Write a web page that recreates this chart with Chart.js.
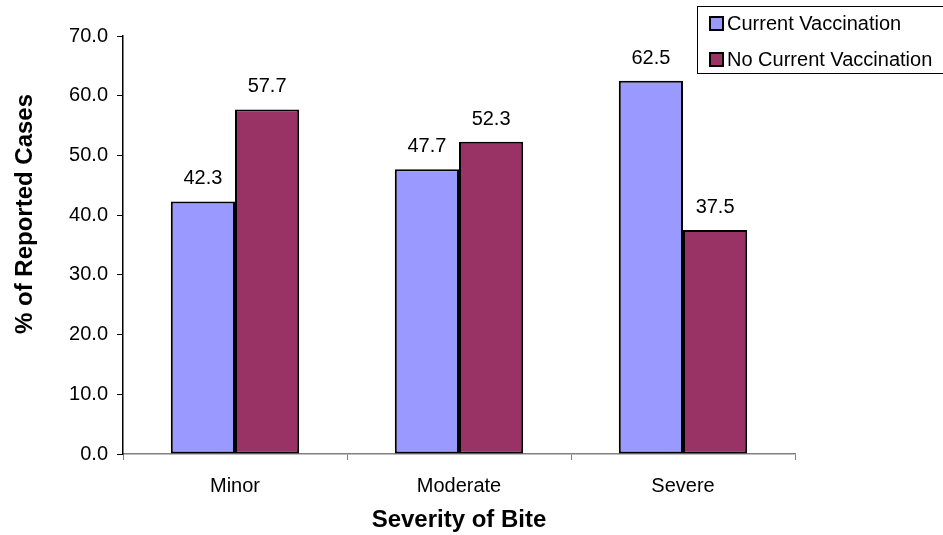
<!DOCTYPE html>
<html>
<head>
<meta charset="utf-8">
<script src="https://cdn.jsdelivr.net/npm/chart.js@4/dist/chart.umd.min.js"></script>
<style>
  html, body { margin: 0; padding: 0; background: #fff; }
  #wrap { width: 943px; height: 535px; }
</style>
</head>
<body>
<div id="wrap"><canvas id="chart"></canvas></div>
<script>
const categories = ["Minor", "Moderate", "Severe"];
const currentVacc = [42.3, 47.7, 62.5];
const noCurrentVacc = [57.7, 52.3, 37.5];
const seriesNames = ["Current Vaccination", "No Current Vaccination"];
const yTitle = "% of Reported Cases";
const xTitle = "Severity of Bite";

const FONT = "'Liberation Sans', Arial, sans-serif";

// value labels above each bar
const valueLabels = {
  id: "valueLabels",
  afterDatasetsDraw(chart) {
    const ctx = chart.ctx;
    ctx.save();
    ctx.font = "20px " + FONT;
    ctx.fillStyle = "#000";
    ctx.textAlign = "center";
    ctx.textBaseline = "alphabetic";
    chart.data.datasets.forEach((ds, i) => {
      chart.getDatasetMeta(i).data.forEach((bar, j) => {
        ctx.fillText(ds.data[j].toFixed(1), bar.x, bar.y - 17);
      });
    });
    ctx.restore();
  }
};

// y title sits a bit above the plot middle, like the original
const sideTitle = {
  id: "sideTitle",
  afterDraw(chart) {
    const ctx = chart.ctx;
    ctx.save();
    ctx.translate(25, 214);
    ctx.rotate(-Math.PI / 2);
    ctx.font = "bold 24px " + FONT;
    ctx.fillStyle = "#000";
    ctx.textAlign = "center";
    ctx.textBaseline = "middle";
    ctx.fillText(yTitle, 0, 0);
    ctx.restore();
  }
};

// boxed legend in the top right corner, Excel style
const boxLegend = {
  id: "boxLegend",
  afterDraw(chart) {
    const ctx = chart.ctx;
    ctx.save();
    ctx.strokeStyle = "#000";
    ctx.lineWidth = 1;
    ctx.strokeRect(697.5, 6.5, 260, 67);
    ctx.font = "20px " + FONT;
    ctx.textBaseline = "middle";
    chart.data.datasets.forEach((ds, i) => {
      const y = 23.5 + i * 36;
      ctx.fillStyle = ds.backgroundColor;
      ctx.fillRect(710, y - 6.5, 13, 13);
      ctx.lineWidth = 2;
      ctx.strokeRect(710, y - 6.5, 13, 13);
      ctx.fillStyle = "#000";
      ctx.fillText(ds.label, 727, y + 1);
    });
    ctx.restore();
  }
};

new Chart(document.getElementById("chart"), {
  type: "bar",
  data: {
    labels: categories,
    datasets: [
      {
        label: seriesNames[0],
        data: currentVacc,
        backgroundColor: "#9999FF",
        borderColor: "#000",
        borderWidth: 2,
        borderSkipped: false,
      },
      {
        label: seriesNames[1],
        data: noCurrentVacc,
        backgroundColor: "#993366",
        borderColor: "#000",
        borderWidth: 2,
        borderSkipped: false,
      },
    ],
  },
  options: {
    responsive: true,
    maintainAspectRatio: false,
    animation: false,
    layout: { padding: { left: 0, right: 148, top: 36, bottom: 0 } },
    datasets: {
      bar: { categoryPercentage: 0.573, barPercentage: 1.0 },
    },
    plugins: {
      legend: { display: false },
      tooltip: { enabled: false },
    },
    scales: {
      x: {
        afterFit(scale) { scale.height = 81; },
        border: { color: "#808080", width: 1.5 },
        grid: {
          offset: true,
          drawOnChartArea: false,
          drawTicks: true,
          tickLength: 6,
          color: "#808080",
        },
        ticks: {
          color: "#000",
          font: { family: FONT, size: 20 },
          padding: 14,
          maxRotation: 0,
        },
        title: {
          display: true,
          text: xTitle,
          color: "#000",
          font: { family: FONT, size: 24, weight: "bold" },
          padding: { top: 0, bottom: 0 },
        },
      },
      y: {
        min: 0,
        max: 70,
        afterFit(scale) { scale.width = 123; },
        border: { color: "#000", width: 1.5 },
        grid: {
          drawOnChartArea: false,
          drawTicks: true,
          tickLength: 6,
          color: "#000",
        },
        ticks: {
          stepSize: 10,
          color: "#000",
          font: { family: FONT, size: 20 },
          padding: 9,
          callback: (v) => v.toFixed(1),
        },
      },
    },
  },
  plugins: [valueLabels, sideTitle, boxLegend],
});
</script>
</body>
</html>
